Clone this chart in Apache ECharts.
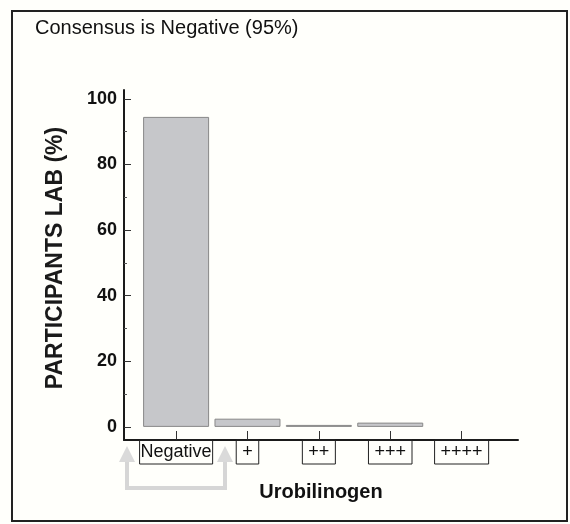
<!DOCTYPE html>
<html>
<head>
<meta charset="utf-8">
<script src="https://cdn.jsdelivr.net/npm/echarts@6/dist/echarts.min.js"></script>
<style>
    html, body { margin: 0; padding: 0; background: #fffffb; }
    #chart { width: 570px; height: 524px; }
</style>
</head>
<body>
<div id="chart"></div>
<script>
// 数据
const categories = ['Negative', '+', '++', '+++', '++++'];
const positions = [1, 2, 3, 4, 5];
const percents = [94.5, 2.5, 0.6, 1.3, 0];
const yTickLabels = [0, 20, 40, 60, 80, 100];
const yMinorTicks = [10, 30, 50, 70, 90];

const myEcharts = echarts.init(document.getElementById('chart'));
const font = '"Liberation Sans", Arial, sans-serif';

const boxStyle = {
    fontSize: 18,
    fontFamily: font,
    color: '#111',
    borderColor: '#222',
    borderWidth: 1,
    lineHeight: 20
};

const option = {
    backgroundColor: '#fffffb',
    animation: false,
    title: {
        text: 'Consensus is Negative (95%)',
        left: 35,
        top: 18,
        padding: 0,
        textStyle: {
            fontSize: 20,
            fontWeight: 'normal',
            fontFamily: font,
            color: '#111'
        }
    },
    grid: {
        left: 124,
        right: 52,
        top: 90,
        bottom: 84
    },
    xAxis: {
        type: 'value',
        min: 0.27,
        max: 5.79,
        name: 'Urobilinogen',
        nameLocation: 'middle',
        nameGap: 42,
        nameTextStyle: {
            fontSize: 20,
            fontWeight: 'bold',
            fontFamily: font,
            color: '#111'
        },
        splitLine: { show: false },
        axisLine: {
            onZero: false,
            lineStyle: { color: '#1a1a1a', width: 2 }
        },
        axisTick: {
            inside: true,
            length: 9,
            customValues: positions,
            lineStyle: { color: '#333', width: 1 }
        },
        axisLabel: {
            margin: 2,
            customValues: positions,
            formatter: function (v) {
                const i = positions.indexOf(v);
                if (i < 0) return '';
                return (i === 0 ? '{n|' : '{b|') + categories[i] + '}';
            },
            rich: {
                n: Object.assign({}, boxStyle, { padding: [3, 1, 3, 1] }),
                b: Object.assign({}, boxStyle, { padding: [3, 6, 3, 6] })
            }
        }
    },
    yAxis: [{
        type: 'value',
        min: -4,
        max: 102.7,
        name: 'PARTICIPANTS LAB (%)',
        nameLocation: 'middle',
        nameGap: 57,
        nameTextStyle: {
            fontSize: 23,
            fontWeight: 'bold',
            fontFamily: font,
            color: '#1a1a1a',
            padding: [0, 0, 0, 14]
        },
        splitLine: { show: false },
        axisLine: {
            show: true,
            lineStyle: { color: '#1a1a1a', width: 2 }
        },
        axisTick: {
            inside: true,
            length: 7,
            customValues: yTickLabels,
            lineStyle: { color: '#333', width: 1 }
        },
        axisLabel: {
            margin: 7,
            customValues: yTickLabels,
            fontSize: 18,
            fontWeight: 'bold',
            fontFamily: font,
            color: '#111'
        }
    }, {
        type: 'value',
        position: 'left',
        min: -4,
        max: 102.7,
        splitLine: { show: false },
        axisLine: { show: false },
        axisLabel: { show: false },
        axisTick: {
            inside: true,
            length: 3,
            customValues: yMinorTicks,
            lineStyle: { color: '#555', width: 1 }
        }
    }],
    series: [{
        type: 'bar',
        data: positions.map((p, i) => ({
            value: [p, percents[i]],
            itemStyle: percents[i] === 0 ? { borderWidth: 0, opacity: 0 } : undefined
        })),
        barWidth: 66,
        itemStyle: {
            color: '#c6c7ca',
            borderColor: '#888',
            borderWidth: 1
        }
    }],
    graphic: [{
        type: 'rect',
        shape: { x: 12, y: 11, width: 555, height: 510 },
        style: { fill: 'none', stroke: '#222', lineWidth: 2 },
        silent: true
    }, {
        type: 'polyline',
        shape: { points: [[127, 462], [127, 488], [225, 488], [225, 462]] },
        style: { fill: 'none', stroke: '#d6d6d6', lineWidth: 4 },
        silent: true
    }, {
        type: 'polygon',
        shape: { points: [[127, 446], [119, 462], [135, 462]] },
        style: { fill: '#dadada' },
        silent: true
    }, {
        type: 'polygon',
        shape: { points: [[225, 446], [217, 462], [233, 462]] },
        style: { fill: '#dadada' },
        silent: true
    }]
};

myEcharts.setOption(option);
</script>
</body>
</html>
